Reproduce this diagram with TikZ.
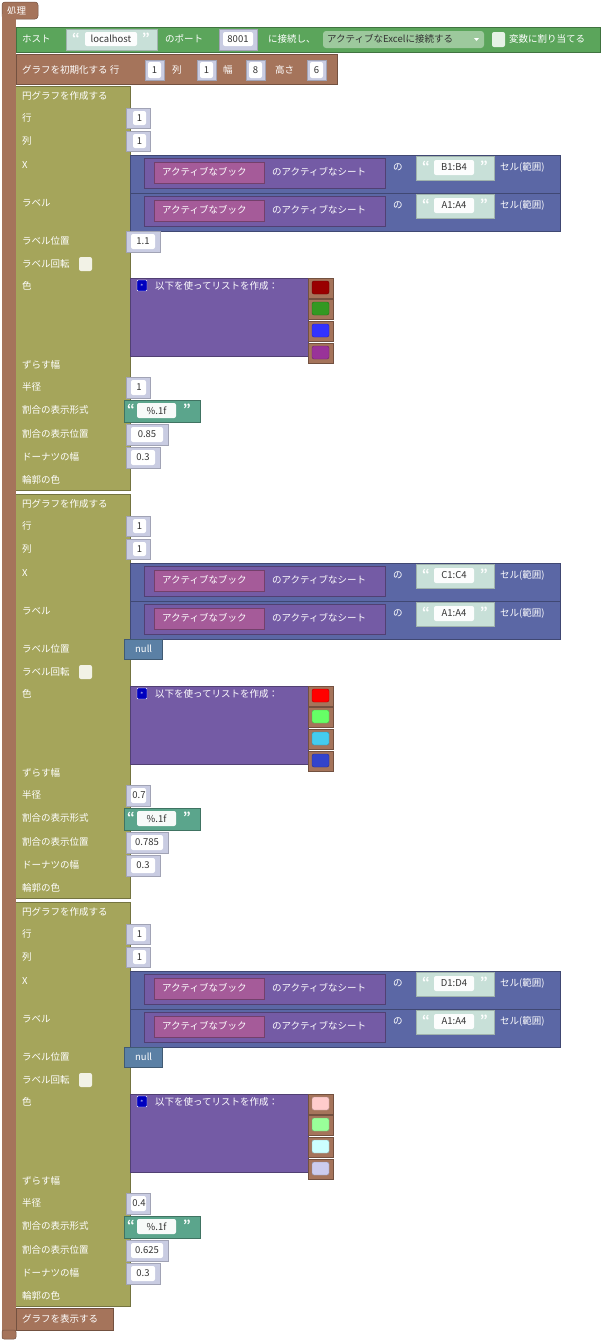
\documentclass[tikz,border=0pt]{standalone}
\usepackage{fontspec}
\setmainfont{Noto Sans CJK JP}
\begin{document}
\begin{tikzpicture}[x=1pt,y=-1pt,
  every node/.style={font=\fontsize{9.5}{11}\selectfont},
  wt/.style={text=white,anchor=west,inner sep=0},
  bt/.style={text=black!80,anchor=center,inner sep=0},
  qt/.style={text=white,font=\fontsize{12}{12}\selectfont\bfseries,inner sep=0},
  blk/.style={draw=#1!70!black,fill=#1,line width=0.5pt},
  numin/.style={fill=numbg,draw=numbg!80!black,line width=0.4pt}]
\definecolor{brn}{HTML}{A5745B}
\definecolor{grn}{HTML}{5BA55B}
\definecolor{olv}{HTML}{A5A55B}
\definecolor{bpl}{HTML}{5B67A5}
\definecolor{ppl}{HTML}{745BA5}
\definecolor{pnk}{HTML}{A55B99}
\definecolor{strc}{HTML}{5BA58C}
\definecolor{strbg}{HTML}{C8E0D8}
\definecolor{numbg}{HTML}{C9CCE2}
\definecolor{nul}{HTML}{5B80A5}
\useasboundingbox (0,0) rectangle (600,1341);
% main procedure
\draw[blk=brn,rounded corners=3pt] (2,2) rectangle (38,19);
\node[wt] (proc) at (7,11) {処理};
\fill[brn] (2,14) rectangle (16,1338);
\draw[blk=brn,rounded corners=2pt] (2,1330) rectangle (16,1339);
% connect row
\draw[blk=grn] (16,27) rectangle (600,52);
\node[wt] (host) at (22,39) {ホスト};
\draw[fill=strbg,draw=strbg!80!black] (66,29) rectangle (157,50);
\node[qt] at (76,38) {“};
\draw[fill=white!95!strbg,draw=none,rounded corners=2pt] (85,32) rectangle (137,46);
\node[bt] (lh) at (111,39) {localhost};
\node[qt] at (146,38) {”};
\node[wt] at (165,39) {のポート};
\draw[numin] (219,29) rectangle (257,50);
\draw[fill=white,draw=none,rounded corners=2pt] (223,32) rectangle (253,46);
\node[bt] (port) at (238,39) {8001};
\node[wt] at (268,39) {に接続し、};
\draw[fill=grn!60!white,draw=none,rounded corners=3pt] (323,31) rectangle (484,48);
\node[text=black!80,anchor=west,inner sep=0] (dd) at (327,39) {アクティブなExcelに接続する};
\fill[white] (474,38) -- (479,38) -- (476.5,41) -- cycle;
\draw[fill=white!85!grn,draw=none,rounded corners=2pt] (492,32) rectangle (505,47);
\node[wt] at (509,39) {変数に割り当てる};
% init row
\draw[blk=brn] (16,54) rectangle (337,84);
\node[wt] (init) at (22,70) {グラフを初期化する 行};
\foreach \xx/\v/\lab/\lx in {145/1/列/172,197/1/幅/223,246/8/高さ/275,307/6/{}/330}{
  \draw[numin] (\xx,60) rectangle (\xx+19,80);
  \draw[fill=white,draw=none,rounded corners=2pt] (\xx+3,62) rectangle (\xx+16,78);
  \node[bt] at (\xx+9.5,70) {\v};
  \node[wt] at (\lx,70) {\lab};
}
% pie macro
\newcommand\piegrp[6]{%
 \begin{scope}[yshift=-#1]
 \fill[olv] (16,86) rectangle (130,490);
 \draw[olv!70!black] (16,86) -- (130,86) -- (130,490) -- (16,490);
 \foreach \ry/\t in {96/円グラフを作成する,118/行,141/列,165/X,203/ラベル,241/ラベル位置,264/ラベル回転,286/色,365/ずらす幅,387/半径,410/割合の表示形式,434/割合の表示位置,457/ドーナツの幅,480/輪郭の色}
   \node[wt] at (22,\ry) {\t};
 \draw[fill=white!85!olv,draw=none,rounded corners=2pt] (79,257) rectangle (92,271);
 \foreach \ry/\v in {108/1,131/1}{
   \draw[numin] (126,\ry) rectangle (150,\ry+20);
   \draw[fill=white,draw=none,rounded corners=2pt] (133,\ry+3) rectangle (146,\ry+17);
   \node[bt] at (139.5,\ry+10) {\v};}
 \foreach \ry/\r in {155/#2,193/A1:A4}{
   \draw[blk=bpl] (130,\ry) rectangle (560,\ry+38);
   \draw[blk=ppl] (144,\ry+3) rectangle (385,\ry+33);
   \draw[blk=pnk] (154,\ry+7) rectangle (264,\ry+28);
   \node[wt] at (162,\ry+17) {アクティブなブック};
   \node[wt] at (272,\ry+17) {のアクティブなシート};
   \node[wt] at (393,\ry+12) {の};
   \draw[fill=strbg,draw=strbg!80!black] (416,\ry+1) rectangle (494,\ry+25);
   \node[qt] at (426,\ry+11) {“};
   \draw[fill=white!95!strbg,draw=none,rounded corners=2pt] (434,\ry+5) rectangle (474,\ry+20);
   \node[bt] at (454,\ry+12.5) {\r};
   \node[qt] at (484,\ry+11) {”};
   \node[wt] at (500,\ry+12) {セル(範囲)};}
 #3
 \draw[blk=ppl] (130,278) rectangle (308,356);
 \draw[fill=blue!75!black,draw=white,rounded corners=1pt] (137,280) rectangle (147,291);
 \node[text=white,font=\tiny] at (142,285.5) {$\ast$};
 \node[wt] at (155,286) {以下を使ってリストを作成：};
 \foreach \cc [count=\i] in {#4}{
   \pgfmathsetmacro\cy{\i==1 ? 278 : 277+22*(\i-1)}
   \draw[blk=brn] (308,\cy) rectangle (333,\cy+20);
   \definecolor{cc}{HTML}{\cc}
   \draw[fill=cc,draw=cc!70!black,rounded corners=2pt] (312,\cy+3) rectangle (329,\cy+16);}
 \draw[numin] (126,377) rectangle (150,398);
 \draw[fill=white,draw=none,rounded corners=2pt] (131,380) rectangle (146,395);
 \node[bt] at (139,387.5) {#5};
 \draw[blk=strc] (124,400) rectangle (200,422);
 \node[qt] at (131,409) {“};
 \draw[fill=white!95!strc,draw=none,rounded corners=2pt] (137,403) rectangle (176,418);
 \node[bt] at (156.5,410.5) {\%.1f};
 \node[qt] at (187,409) {”};
 \draw[numin] (126,424) rectangle (168,445);
 \draw[fill=white,draw=none,rounded corners=2pt] (131,427) rectangle (163,442);
 \node[bt] at (147,434.5) {#6};
 \draw[numin] (126,447) rectangle (160,468);
 \draw[fill=white,draw=none,rounded corners=2pt] (131,450) rectangle (155,465);
 \node[bt] at (143,457.5) {0.3};
 \end{scope}}
\piegrp{0}{B1:B4}{\draw[numin] (126,231) rectangle (160,252);
 \draw[fill=white,draw=none,rounded corners=2pt] (131,234) rectangle (155,249);
 \node[bt] (lp1) at (143,241.5) {1.1};}{990000,339922,3333FF,993399}{1}{0.85}
\piegrp{408}{C1:C4}{\draw[blk=nul] (124,231) rectangle (162,251);
 \node[wt] (lp2) at (135,241) {null};}{FF0000,66FF66,44CCEE,3344CC}{0.7}{0.785}
\piegrp{816}{D1:D4}{\draw[blk=nul] (124,231) rectangle (162,251);
 \node[wt] (lp3) at (135,241) {null};}{FFCCCC,99FF99,CCFFFF,CCCCEE}{0.4}{0.625}
% show
\draw[blk=brn] (16,1308) rectangle (113,1330);
\node[wt] (show) at (22,1319) {グラフを表示する};
\end{tikzpicture}
\end{document}
